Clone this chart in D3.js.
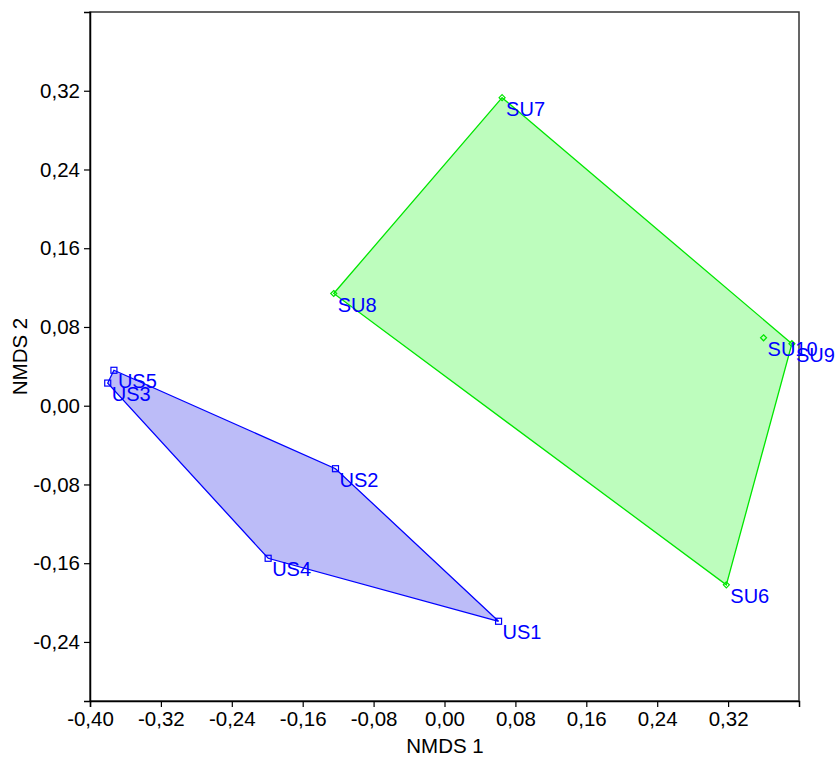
<!DOCTYPE html>
<html>
<head>
<meta charset="utf-8">
<script src="https://cdn.jsdelivr.net/npm/d3@7"></script>
<style>
  html, body { margin: 0; padding: 0; background: #fff; }
  svg { display: block; font-family: "Liberation Sans", Arial, sans-serif; }
</style>
</head>
<body>
<svg id="chart" width="839" height="757"></svg>
<script>
// Data
const usNames = ["US1", "US2", "US3", "US4", "US5"];
const usX = [0.061, -0.123, -0.380, -0.199, -0.373];
const usY = [-0.219, -0.064, 0.023, -0.155, 0.036];
const usHull = ["US5", "US2", "US1", "US4", "US3"];

const suNames = ["SU6", "SU7", "SU8", "SU9", "SU10"];
const suX = [0.318, 0.065, -0.125, 0.392, 0.360];
const suY = [-0.182, 0.313, 0.114, 0.063, 0.069];
const suHull = ["SU7", "SU9", "SU6", "SU8"];

const xTicks = [-0.40, -0.32, -0.24, -0.16, -0.08, 0.00, 0.08, 0.16, 0.24, 0.32];
const yTicks = [-0.24, -0.16, -0.08, 0.00, 0.08, 0.16, 0.24, 0.32];

const svg = d3.select("#chart");
const m = { left: 90, right: 799, top: 12, bottom: 701 };
const x = d3.scaleLinear().domain([-0.40, 0.40]).range([m.left, m.right]);
const y = d3.scaleLinear().domain([-0.30, 0.40]).range([m.bottom, m.top]);
const fmt = v => d3.format(".2f")(v).replace("−", "-").replace(".", ",");

// frame (top/right)
svg.append("rect").attr("x", m.left).attr("y", m.top)
  .attr("width", m.right - m.left).attr("height", m.bottom - m.top)
  .attr("fill", "none").attr("stroke", "#333").attr("stroke-width", 1.5);

const groups = [
  { names: usNames, xs: usX, ys: usY, hull: usHull, stroke: "#0000ff", fill: "#bcbcf8", marker: "square" },
  { names: suNames, xs: suX, ys: suY, hull: suHull, stroke: "#00e600", fill: "#bdfdbd", marker: "diamond" }
];

groups.forEach(g => {
  const pts = g.names.map((n, i) => ({ name: n, x: g.xs[i], y: g.ys[i] }));
  const byName = new Map(pts.map(p => [p.name, p]));
  const hullPts = g.hull.map(n => byName.get(n));
  svg.append("path")
    .attr("d", d3.line().x(d => x(d.x)).y(d => y(d.y))(hullPts) + "Z")
    .attr("fill", g.fill).attr("stroke", g.stroke).attr("stroke-width", 1.3);
  pts.forEach(p => {
    const cx = x(p.x), cy = y(p.y);
    if (g.marker === "square") {
      svg.append("rect").attr("x", cx - 3).attr("y", cy - 3).attr("width", 6).attr("height", 6)
        .attr("fill", "none").attr("stroke", g.stroke).attr("stroke-width", 1.2);
    } else {
      svg.append("path").attr("d", `M${cx},${cy - 3}L${cx + 3},${cy}L${cx},${cy + 3}L${cx - 3},${cy}Z`)
        .attr("fill", "none").attr("stroke", g.stroke).attr("stroke-width", 1.2);
    }
  });
  pts.forEach(p => {
    svg.append("text").attr("x", x(p.x) + 4).attr("y", y(p.y) + 18)
      .attr("fill", "#0000ff").attr("font-size", 20).text(p.name);
  });
});

// Axes
const xAxis = d3.axisBottom(x).tickValues(xTicks).tickFormat(fmt).tickSize(6).tickPadding(4);
const gx = svg.append("g").attr("transform", `translate(0,${m.bottom})`).call(xAxis);
const yAxis = d3.axisLeft(y).tickValues(yTicks).tickFormat(fmt).tickSize(6).tickPadding(4);
const gy = svg.append("g").attr("transform", `translate(${m.left},0)`).call(yAxis);
[gx, gy].forEach(g => {
  g.select(".domain").attr("stroke", "#000").attr("stroke-width", 1.5);
  g.selectAll(".tick line").attr("stroke", "#000").attr("stroke-width", 1.2);
  g.selectAll(".tick text").attr("fill", "#000").attr("font-size", 20.5)
    .attr("font-family", "'Liberation Sans', Arial, sans-serif");
});

svg.append("text").attr("x", 445).attr("y", 753)
  .attr("text-anchor", "middle").attr("font-size", 20.5).attr("fill", "#000").text("NMDS 1");
svg.append("text").attr("transform", `translate(27,${(m.top + m.bottom) / 2}) rotate(-90)`)
  .attr("text-anchor", "middle").attr("font-size", 20.5).attr("fill", "#000").text("NMDS 2");
</script>
</body>
</html>
